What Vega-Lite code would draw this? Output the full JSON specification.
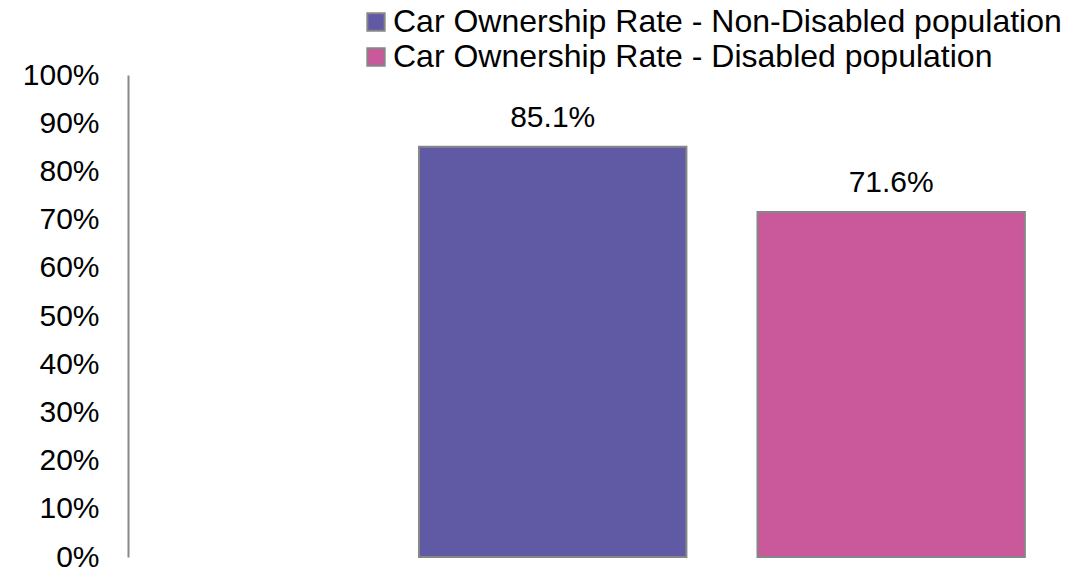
{
  "$schema": "https://vega.github.io/schema/vega-lite/v6.json",
  "autosize": "none",
  "padding": {"left": 128, "top": 75, "right": 10, "bottom": 12},
  "width": 936,
  "height": 482,
  "background": "white",
  "config": {"view": {"stroke": null}, "font": "Liberation Sans"},
  "data": {"values": [
    {"series": "Car Ownership Rate - Non-Disabled population", "rate": 0.851},
    {"series": "Car Ownership Rate - Disabled population", "rate": 0.716}
  ]},
  "encoding": {
    "x": {"field": "series", "type": "nominal", "axis": null,
      "sort": ["Car Ownership Rate - Non-Disabled population", "Car Ownership Rate - Disabled population"],
      "scale": {"paddingInner": 0.21, "paddingOuter": 0.4877, "align": 0.8815}},
    "y": {"field": "rate", "type": "quantitative",
      "scale": {"domain": [0, 1], "nice": false},
      "axis": {"title": null, "format": "%", "values": [0,0.1,0.2,0.3,0.4,0.5,0.6,0.7,0.8,0.9,1],
        "grid": false, "ticks": false, "domainColor": "#888888", "domainWidth": 2,
        "labelPadding": 29, "labelFontSize": 30, "labelColor": "#000000", "labelFont": "Liberation Sans"}}
  },
  "layer": [
    {"mark": {"type": "bar", "stroke": "#868686", "strokeWidth": 2},
     "encoding": {
       "color": {"field": "series", "type": "nominal",
         "scale": {"domain": ["Car Ownership Rate - Non-Disabled population", "Car Ownership Rate - Disabled population"],
                   "range": ["#605AA4", "#C9599A"]},
         "legend": {"title": null, "orient": "none", "legendX": 232, "legendY": -69,
           "symbolType": "square", "symbolSize": 300, "symbolStrokeColor": "#868686", "symbolStrokeWidth": 2,
           "labelFontSize": 32, "labelFont": "Liberation Sans", "labelColor": "#000000", "labelOffset": 1,
           "rowPadding": 3, "padding": 0, "labelLimit": 800}
       }}},
    {"mark": {"type": "text", "baseline": "alphabetic", "dy": -20, "fontSize": 30, "font": "Liberation Sans", "color": "#000000"},
     "encoding": {"text": {"field": "rate", "type": "quantitative", "format": ".1%"}}}
  ]
}
